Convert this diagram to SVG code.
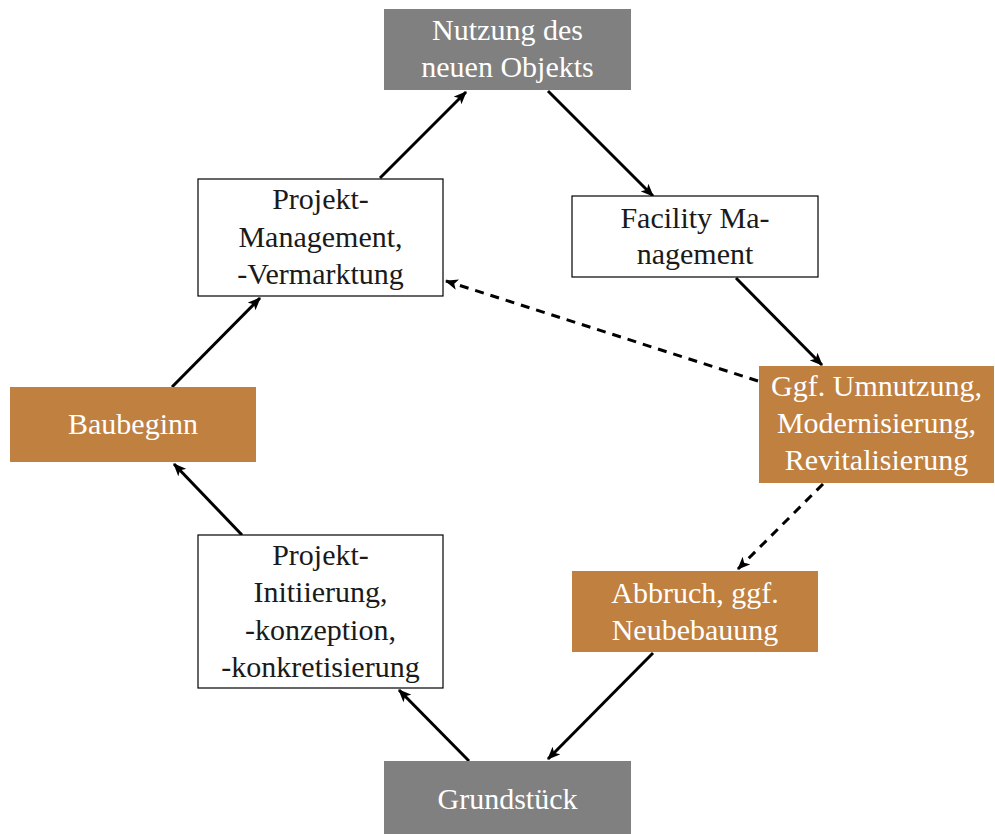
<svg xmlns="http://www.w3.org/2000/svg" width="995" height="834" viewBox="0 0 995 834">
<style>
text{font-family:"Liberation Serif","DejaVu Serif",serif;font-size:30px;text-anchor:middle}
.gray rect{fill:#808080}
.gray text,.brown text{fill:#ffffff}
.brown rect{fill:#C0803F}
.white rect{fill:#ffffff;stroke:#000;stroke-width:1.2}
.white text{fill:#1a1a1a}
.c{stroke:#000;stroke-width:3;fill:none;marker-end:url(#ah)}
.d{stroke-dasharray:9,7}
</style>
<defs>
<marker id="ah" viewBox="0 0 12 10" refX="11" refY="5" markerWidth="13" markerHeight="11" markerUnits="userSpaceOnUse" orient="auto">
<path d="M0,0 L12,5 L0,10 L3,5 Z" fill="#000"/>
</marker>
</defs>
<g id="connectors">
<line class="c" x1="469" y1="761" x2="399" y2="690"/>
<line class="c" x1="242" y1="535" x2="174" y2="464"/>
<line class="c" x1="172" y1="387" x2="260" y2="298"/>
<line class="c" x1="380" y1="178" x2="466" y2="92"/>
<line class="c" x1="548" y1="91" x2="653" y2="196"/>
<line class="c" x1="736" y1="278" x2="822" y2="365"/>
<line class="c d" x1="758" y1="381" x2="446" y2="281"/>
<line class="c d" x1="823" y1="484" x2="738" y2="569"/>
<line class="c" x1="653" y1="653" x2="548" y2="759"/>
</g>
<g id="nutzung" class="gray">
<rect x="384" y="9" width="247" height="81"/>
<text x="507.5" y="40">Nutzung des</text>
<text x="507.5" y="77">neuen Objekts</text>
</g>
<g id="facility" class="white">
<rect x="572" y="196" width="246" height="81"/>
<text x="695" y="228">Facility Ma-</text>
<text x="695" y="264">nagement</text>
</g>
<g id="projektmanagement" class="white">
<rect x="198" y="179" width="245" height="117"/>
<text x="320.5" y="209">Projekt-</text>
<text x="320.5" y="247">Management,</text>
<text x="320.5" y="284">-Vermarktung</text>
</g>
<g id="baubeginn" class="brown">
<rect x="10" y="387" width="246" height="75"/>
<text x="133" y="434">Baubeginn</text>
</g>
<g id="umnutzung" class="brown">
<rect x="759" y="366" width="235" height="117"/>
<text x="876.5" y="396">Ggf. Umnutzung,</text>
<text x="876.5" y="433">Modernisierung,</text>
<text x="876.5" y="470">Revitalisierung</text>
</g>
<g id="abbruch" class="brown">
<rect x="572" y="571" width="246" height="81"/>
<text x="695" y="603">Abbruch, ggf.</text>
<text x="695" y="640">Neubebauung</text>
</g>
<g id="initiierung" class="white">
<rect x="198" y="535" width="245" height="153"/>
<text x="320.5" y="565">Projekt-</text>
<text x="320.5" y="602">Initiierung,</text>
<text x="320.5" y="640">-konzeption,</text>
<text x="320.5" y="677">-konkretisierung</text>
</g>
<g id="grundstueck" class="gray">
<rect x="384" y="761" width="247" height="73"/>
<text x="507.5" y="809">Grundstück</text>
</g>
</svg>
